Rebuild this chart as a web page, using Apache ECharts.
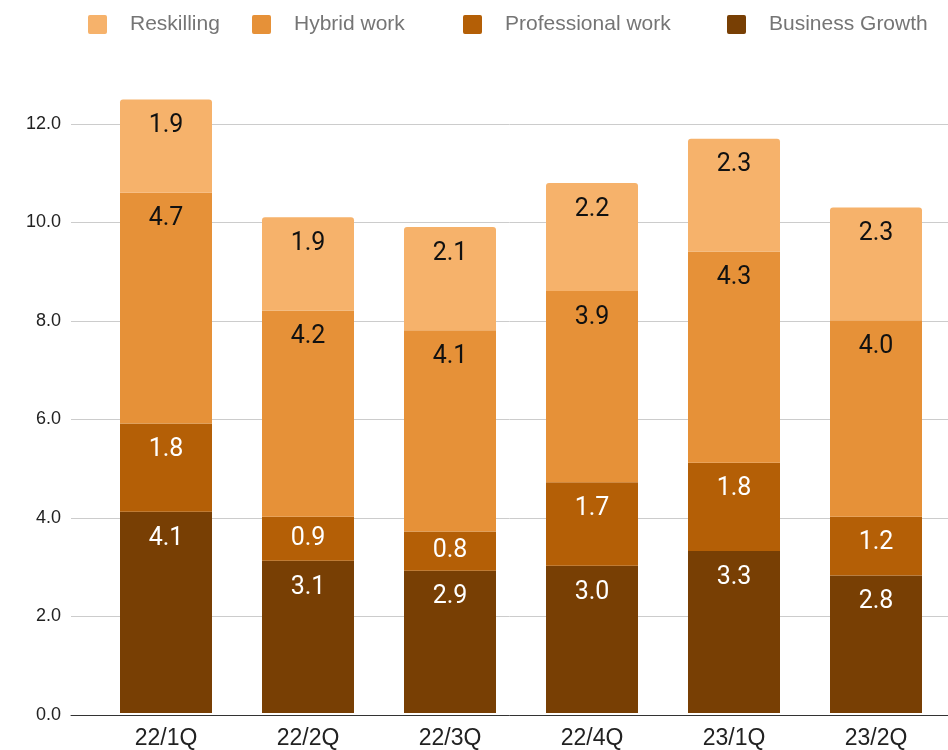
<!DOCTYPE html>
<html>
<head>
<meta charset="utf-8">
<script src="https://cdn.jsdelivr.net/npm/echarts@6/dist/echarts.min.js"></script>
<style>html,body{margin:0;padding:0;background:#fff}#c{width:948px;height:750px}</style>
</head>
<body>
<div id="c"></div>
<script>
const categories = ['22/1Q', '22/2Q', '22/3Q', '22/4Q', '23/1Q', '23/2Q'];
const businessGrowth = [4.1, 3.1, 2.9, 3.0, 3.3, 2.8];
const professionalWork = [1.8, 0.9, 0.8, 1.7, 1.8, 1.2];
const hybridWork = [4.7, 4.2, 4.1, 3.9, 4.3, 4.0];
const reskilling = [1.9, 1.9, 2.1, 2.2, 2.3, 2.3];
const yTicks = [0, 2, 4, 6, 8, 10, 12];

const LABEL_FONT = 'Roboto';
const AXIS_FONT = 'Liberation Sans';
const colors = {
  'Reskilling': '#f6b26b',
  'Hybrid work': '#e69138',
  'Professional work': '#b45f06',
  'Business Growth': '#783f04'
};

function mkData(arr) {
  return arr.map(v => ({ value: v, label: { position: v < 1 ? 'inside' : 'insideTop' } }));
}

function mkSeries(name, arr, textColor, radius) {
  return {
    name: name, type: 'bar', stack: 'total', xAxisIndex: 1, yAxisIndex: 1,
    barWidth: 92, clip: false,
    itemStyle: { color: colors[name], borderRadius: radius || 0 },
    label: {
      show: true, position: 'insideTop', distance: 14,
      color: textColor, fontFamily: LABEL_FONT, fontSize: 25,
      formatter: p => p.value.toFixed(1)
    },
    data: mkData(arr)
  };
}

const ICON = 'path://M2,0H18Q20,0 20,2V18Q20,20 18,20H2Q0,20 0,18V2Q0,0 2,0Z';
function mkLegend(name, left) {
  return {
    left: left - 5, top: 9, itemWidth: 19, itemHeight: 19, icon: ICON,
    data: [name], selectedMode: false,
    itemStyle: { borderRadius: 0 },
    textStyle: { color: '#757575', fontFamily: AXIS_FONT, fontSize: 21, padding: [2, 0, 0, 18] }
  };
}

const chart = echarts.init(document.getElementById('c'), null, { renderer: 'canvas' });
chart.setOption({
  animation: false,
  backgroundColor: '#fff',
  legend: [
    mkLegend('Reskilling', 88),
    mkLegend('Hybrid work', 252),
    mkLegend('Professional work', 463),
    mkLegend('Business Growth', 727)
  ],
  grid: [
    { left: 71, right: 0, top: 124, bottom: 35 },
    { left: 95, right: 1, top: 124, bottom: 35 }
  ],
  xAxis: [
    { gridIndex: 0, type: 'value', min: 0, max: 1,
      axisLine: { show: true, lineStyle: { color: '#333', width: 1 } },
      axisLabel: { show: false }, axisTick: { show: false }, splitLine: { show: false } },
    { gridIndex: 1, type: 'category', data: categories,
      axisLine: { show: false }, axisTick: { show: false },
      axisLabel: { color: '#222', fontFamily: AXIS_FONT, fontSize: 23, margin: 14 } }
  ],
  yAxis: [
    { gridIndex: 0, type: 'value', min: yTicks[0], max: yTicks[yTicks.length - 1], interval: 2,
      axisLine: { show: false }, axisTick: { show: false },
      axisLabel: { color: '#222', fontFamily: AXIS_FONT, fontSize: 18, margin: 10, formatter: v => v.toFixed(1) },
      splitLine: { lineStyle: { color: '#cccccc', width: 1 } } },
    { gridIndex: 1, type: 'value', min: yTicks[0], max: yTicks[yTicks.length - 1], interval: 2, show: false,
      splitLine: { show: false } }
  ],
  series: [
    mkSeries('Business Growth', businessGrowth, '#ffffff'),
    mkSeries('Professional work', professionalWork, '#ffffff'),
    mkSeries('Hybrid work', hybridWork, '#111111'),
    mkSeries('Reskilling', reskilling, '#111111', [3, 3, 0, 0])
  ]
});
</script>
</body>
</html>
